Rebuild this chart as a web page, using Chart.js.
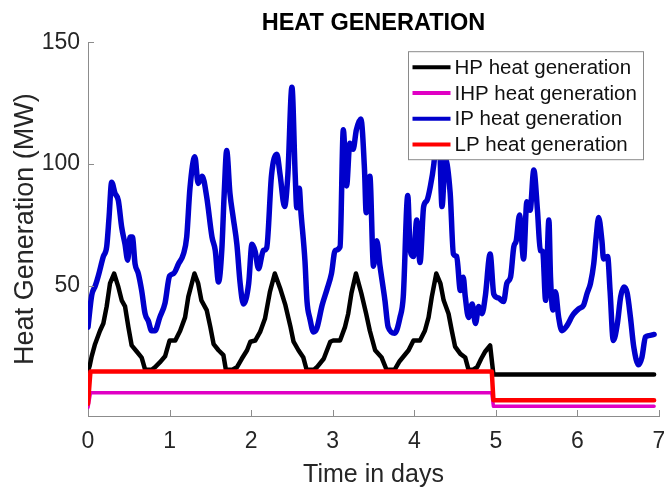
<!DOCTYPE html>
<html lang="en">
<head>
    <meta charset="UTF-8">
    <title>Heat Generation</title>
    <style>
        body { margin: 0; background: #fff; }
    </style>
    <script src="https://cdn.jsdelivr.net/npm/chart.js"></script>
</head>
<body>
    <canvas id="heatChart" width="664" height="488"></canvas>

    <script>
        // Values (time in days, heat in MW)
        var ipTime = [0.00, 0.045, 0.09, 0.126, 0.188, 0.229, 0.258, 0.29, 0.331, 0.372, 0.413, 0.454, 0.487, 0.515, 0.544, 0.577, 0.617, 0.658, 0.70, 0.74, 0.78, 0.82, 0.88, 0.945,
            1.00, 1.05, 1.11, 1.17, 1.21, 1.25, 1.31, 1.35, 1.40, 1.455, 1.52, 1.56, 1.60, 1.64, 1.67, 1.70, 1.74, 1.78, 1.825, 1.865, 1.905, 1.97,
            2.01, 2.05, 2.09, 2.15, 2.19, 2.25, 2.315, 2.355, 2.41, 2.45, 2.50, 2.54, 2.56, 2.59, 2.61, 2.66, 2.685, 2.72, 2.765, 2.805, 2.87, 2.93, 2.985,
            3.03, 3.09, 3.13, 3.17, 3.21, 3.25, 3.29, 3.345, 3.39, 3.41, 3.455, 3.50, 3.54, 3.58, 3.64, 3.68, 3.76, 3.825, 3.865, 3.92, 3.95, 3.99,
            4.03, 4.07, 4.115, 4.155, 4.195, 4.24, 4.28, 4.30, 4.34, 4.38, 4.44, 4.48, 4.52, 4.565, 4.60, 4.625, 4.665, 4.71, 4.75, 4.79, 4.83, 4.87, 4.93, 4.975,
            5.03, 5.095, 5.135, 5.18, 5.22, 5.25, 5.29, 5.34, 5.38, 5.42, 5.465, 5.51, 5.545, 5.575, 5.61, 5.65, 5.67, 5.70, 5.73, 5.77, 5.81, 5.87, 5.935, 5.955,
            6.015, 6.075, 6.12, 6.16, 6.20, 6.23, 6.26, 6.30, 6.32, 6.37, 6.40, 6.44, 6.49, 6.53, 6.57, 6.61, 6.65, 6.69, 6.75, 6.79, 6.835, 6.875, 6.94];
        var ipValue = [33, 46, 50, 54, 62, 66, 78, 92.5, 88, 85, 74, 67, 60.5, 70, 70, 59, 55, 48, 38.5, 35.5, 31.5, 31.5, 37, 43,
            54, 55, 59, 63, 70, 90, 103, 92, 95, 86.5, 70, 64.5, 51.5, 64.5, 88, 105.5, 88, 78, 67, 51, 42.5, 51,
            67, 64, 57, 64.5, 65.5, 95.5, 104, 95.5, 82.5, 95.5, 131.5, 95.5, 82, 90, 80.5, 60, 43.5, 36.5, 31, 32.5, 42, 48.5, 55,
            64.5, 66, 114, 91, 108.5, 106, 114, 118.5, 97.5, 80, 95, 58, 68.5, 58, 44, 33, 30.5, 37, 45.5, 87, 64.5, 62,
            77, 59.5, 82.5, 85, 90.5, 100, 115, 117, 82.5, 102, 88, 63, 62, 48, 53.5, 45.5, 37, 42.5, 34.5, 41.5, 38.5, 45.5, 63, 46.5,
            45, 43.5, 51, 53.5, 66, 68.5, 79, 61, 84.5, 81, 97.5, 81, 64.5, 64, 44, 77, 53.5, 40, 47.5, 37, 31.5, 33.5, 37.5, 38.5,
            40.5, 42, 47, 51, 59, 70, 78, 68.5, 61, 62, 48, 27.5, 34.5, 45.5, 49.5, 47, 37, 25, 17.5, 20.5, 29, 29.5, 30];

        var hpTime = [0.00, 0.02, 0.045, 0.086, 0.147, 0.188, 0.229, 0.27, 0.32, 0.372, 0.413, 0.454, 0.495, 0.535, 0.597, 0.658, 0.70, 0.78, 0.82, 0.88, 0.945,
            1.00, 1.07, 1.13, 1.19, 1.23, 1.305, 1.35, 1.39, 1.455, 1.50, 1.54, 1.60, 1.66, 1.69, 1.77, 1.825, 1.885, 1.95,
            1.99, 2.05, 2.11, 2.17, 2.23, 2.29, 2.355, 2.42, 2.48, 2.52, 2.58, 2.64, 2.68, 2.77, 2.805, 2.89, 2.97,
            3.006, 3.09, 3.15, 3.19, 3.23, 3.285, 3.35, 3.41, 3.455, 3.52, 3.60, 3.66, 3.76, 3.82, 3.93,
            3.99, 4.07, 4.13, 4.175, 4.215, 4.27, 4.32, 4.36, 4.42, 4.46, 4.50, 4.565, 4.625, 4.665, 4.72, 4.77, 4.82, 4.87, 4.93, 4.955, 4.97, 6.94];
        var hpValue = [15, 17, 21, 26, 31.5, 34.5, 41.5, 51, 55, 49.5, 44, 41.5, 33, 25.5, 23, 20.5, 15.5, 15.5, 16.5, 18.5, 21,
            27.5, 27.5, 31.5, 37, 45.5, 55, 51, 44, 40, 33, 26, 23.5, 21.5, 15.5, 15.5, 16.5, 20, 23.5,
            27, 27.5, 31, 36.5, 47.5, 55, 49, 42, 33.5, 27, 23.5, 20.5, 15.5, 15.5, 16.5, 20, 27,
            27.5, 27.5, 33, 38.5, 47, 55, 47, 38.5, 31.5, 23.5, 20.5, 15.5, 15.5, 19, 23.5,
            27.5, 27.5, 31.5, 37, 45.5, 55, 51, 44, 38.5, 31.5, 25, 22, 20.5, 15.5, 15.5, 16.5, 20, 23, 25.5, 18, 13.5, 13.5];

        var stepTime = [0.00, 0.03, 4.95, 4.97, 6.94];
        var ihpValue = [0, 6, 6, 0.5, 0.5];
        var lpValue = [1.5, 14.8, 14.8, 3, 3];

        var seriesLabels = ['HP heat generation', 'IHP heat generation', 'IP heat generation', 'LP heat generation'];
        var seriesColors = ['#000000', '#e000c4', '#0000cc', '#ff0000'];
        var xTicks = [0, 1, 2, 3, 4, 5, 6, 7];
        var yTicks = [50, 100, 150];

        function pairs(times, values) {
            return times.map(function (t, i) { return { x: t, y: values[i] }; });
        }

        var fontFamily = '"Liberation Sans", Arial, sans-serif';
        var axisGray = '#8c8c8c';
        var textGray = '#262626';

        // inward tick marks plus the boxed legend drawn on top of the lines
        var matlabLook = {
            id: 'matlabLook',
            afterDraw: function (chart) {
                var ctx = chart.ctx;
                var area = chart.chartArea;
                var xs = chart.scales.x, ys = chart.scales.y;
                ctx.save();
                ctx.strokeStyle = axisGray;
                ctx.lineWidth = 1;
                ctx.beginPath();
                xTicks.forEach(function (v) {
                    var px = Math.round(xs.getPixelForValue(v)) + 0.5;
                    ctx.moveTo(px, area.bottom);
                    ctx.lineTo(px, area.bottom - 6);
                });
                yTicks.forEach(function (v) {
                    var py = Math.round(ys.getPixelForValue(v)) + 0.5;
                    ctx.moveTo(area.left, py);
                    ctx.lineTo(area.left + 6, py);
                });
                ctx.stroke();

                // legend box
                var boxRight = area.right - 15.5;
                var boxW = 235, boxH = 108;
                var boxLeft = boxRight - boxW;
                var boxTop = area.top + 9.5;
                ctx.fillStyle = '#ffffff';
                ctx.fillRect(boxLeft, boxTop, boxW, boxH);
                ctx.strokeStyle = '#8a8a8a';
                ctx.strokeRect(boxLeft, boxTop, boxW, boxH);
                ctx.font = '20.5px ' + fontFamily;
                ctx.textBaseline = 'middle';
                ctx.textAlign = 'left';
                chart.data.datasets.forEach(function (ds, i) {
                    var rowY = boxTop + 15.5 + i * 25.8;
                    ctx.strokeStyle = ds.borderColor;
                    ctx.lineWidth = 4;
                    ctx.beginPath();
                    ctx.moveTo(boxLeft + 4, rowY);
                    ctx.lineTo(boxLeft + 42, rowY);
                    ctx.stroke();
                    ctx.fillStyle = '#111111';
                    ctx.fillText(ds.label, boxLeft + 46, rowY + 1);
                });
                ctx.restore();
            }
        };

        var ctx = document.getElementById('heatChart').getContext('2d');
        var chart = new Chart(ctx, {
            type: 'line',
            data: {
                datasets: [
                    { label: seriesLabels[0], data: pairs(hpTime, hpValue), borderColor: seriesColors[0], borderWidth: 4.5, order: 4 },
                    { label: seriesLabels[1], data: pairs(stepTime, ihpValue), borderColor: seriesColors[1], borderWidth: 3.5, order: 3 },
                    { label: seriesLabels[2], data: pairs(ipTime, ipValue), borderColor: seriesColors[2], borderWidth: 5.5, order: 2, cubicInterpolationMode: 'monotone' },
                    { label: seriesLabels[3], data: pairs(stepTime, lpValue), borderColor: seriesColors[3], borderWidth: 4.5, order: 1 }
                ]
            },
            options: {
                responsive: false,
                animation: false,
                elements: {
                    point: { radius: 0 },
                    line: { fill: false, borderJoinStyle: 'round', borderCapStyle: 'round', tension: 0 }
                },
                layout: { padding: { left: 0, right: 5, top: 0, bottom: 0 } },
                plugins: {
                    legend: { display: false },
                    tooltip: { enabled: false },
                    title: {
                        display: true,
                        fullSize: false,
                        text: 'HEAT GENERATION',
                        color: '#000000',
                        font: { family: fontFamily, size: 23.5, weight: 'bold', lineHeight: 1.2 },
                        padding: { top: 9, bottom: 5 }
                    }
                },
                scales: {
                    x: {
                        type: 'linear',
                        min: 0,
                        max: 7,
                        afterBuildTicks: function (scale) {
                            scale.ticks = xTicks.map(function (v) { return { value: v }; });
                        },
                        afterFit: function (scale) {
                            scale.height = 72;
                            scale.paddingLeft = 0;
                            scale.paddingRight = 0;
                        },
                        grid: { display: false, drawTicks: false },
                        border: { display: true, color: axisGray, width: 1 },
                        ticks: {
                            padding: 12,
                            color: textGray,
                            maxRotation: 0,
                            font: { family: fontFamily, size: 23 }
                        },
                        title: {
                            display: true,
                            text: 'Time in days',
                            color: textGray,
                            padding: { top: 0, bottom: 0 },
                            font: { family: fontFamily, size: 25, lineHeight: 1 }
                        }
                    },
                    y: {
                        type: 'linear',
                        min: -3.5,
                        max: 150,
                        afterBuildTicks: function (scale) {
                            scale.ticks = yTicks.map(function (v) { return { value: v }; });
                        },
                        afterFit: function (scale) {
                            scale.width = 88;
                            scale.paddingTop = 0;
                            scale.paddingBottom = 0;
                        },
                        grid: { display: false, drawTicks: false },
                        border: { display: true, color: axisGray, width: 1 },
                        ticks: {
                            padding: 8,
                            color: textGray,
                            font: { family: fontFamily, size: 23 }
                        },
                        title: {
                            display: true,
                            text: 'Heat Generation (MW)',
                            color: textGray,
                            padding: { top: 12, bottom: 0 },
                            font: { family: fontFamily, size: 27, lineHeight: 1 }
                        }
                    }
                }
            },
            plugins: [matlabLook]
        });
    </script>
</body>
</html>
